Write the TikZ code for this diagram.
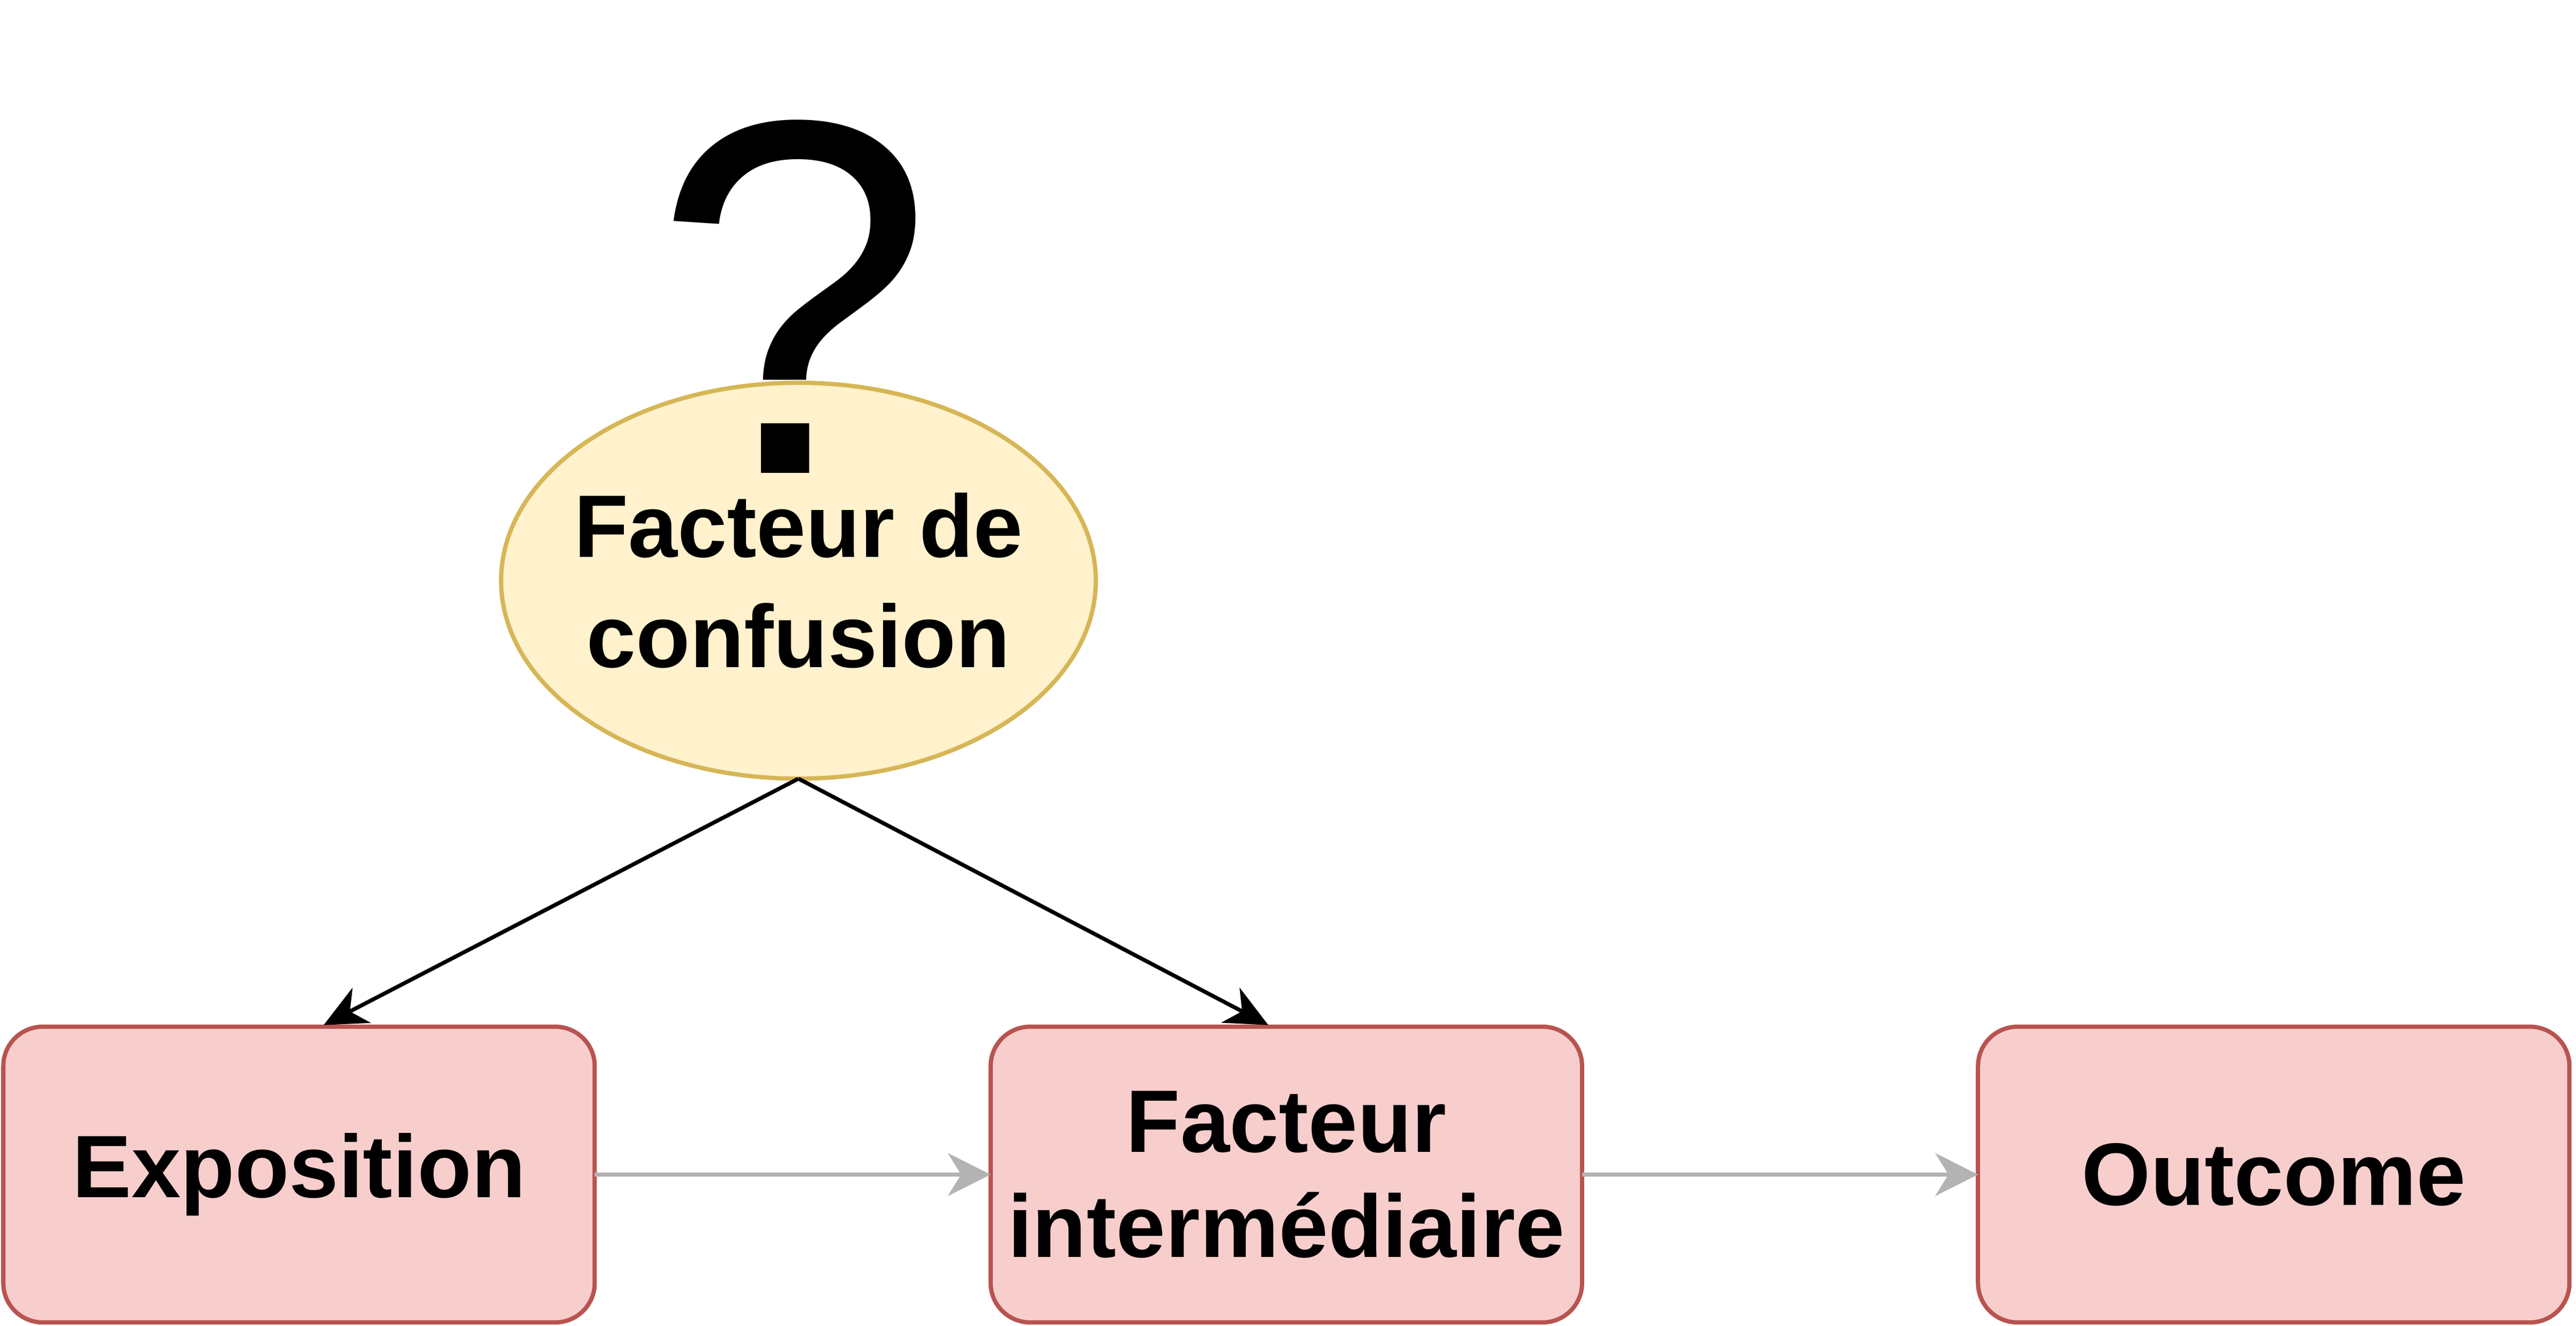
\documentclass[tikz,border=0pt]{standalone}
\usepackage{fontspec}
\setmainfont{Liberation Sans}
\usepackage{xcolor}
\usepackage{tikz}
\usetikzlibrary{arrows.meta}
\usetikzlibrary{shapes.geometric}
\usetikzlibrary{positioning}
\definecolor{red_fill}{HTML}{F8CECC}
\definecolor{red_line}{HTML}{B85450}
\definecolor{yellow_fill}{HTML}{FFF2CC}
\definecolor{yellow_line}{HTML}{D6B656}
\definecolor{grey_line}{HTML}{B3B3B3}
\tikzset{
    textnode/.style = {align=center, inner sep=0pt, outer sep=0pt, text centered, font=\fontsize{54}{64}\selectfont\bfseries},
    red_box/.style = {textnode, rectangle, rounded corners=24pt, draw=red_line, fill=red_fill, line width=2.6pt, minimum width=360pt, minimum height=180pt},
    yellow_node/.style = {textnode, ellipse, font=\fontsize{54}{67}\selectfont\bfseries, inner xsep=-12pt, inner ysep=-20pt, draw=yellow_line, fill=yellow_fill, line width=2.6pt, minimum width=362pt, minimum height=241pt},
    grey_edge/.style = {-{Stealth[length=26pt, width=26pt, inset=8pt]}, draw=grey_line, line width=2.4pt},
    black_edge/.style = {-{Stealth[length=26pt, width=24pt, inset=8pt]}, draw=black, line width=2.4pt}
}

\begin{document}
\begin{tikzpicture}[x=1pt, y=-1pt]
    \useasboundingbox (0,0) rectangle (1568,807);

    \node [red_box] (expo) at (182,715) {Exposition};
    \node [red_box, right=241pt of expo] (inter) {Facteur\\interm\'ediaire};
    \node [red_box, right=241pt of inter] (outcome) {Outcome};

    \node [yellow_node] (conf) at (486,353.5) {Facteur de\\confusion};
    \node [inner sep=0pt, anchor=base, font=\fontsize{308}{308}\selectfont] (qmark) at (483,288) {?};

    \coordinate (expo_in) at (197,624);
    \coordinate (inter_in) at (772,624);

    \draw [black_edge] (conf.south) -- (expo_in);
    \draw [black_edge] (conf.south) -- (inter_in);
    \draw [grey_edge] (expo.east) -- (inter.west);
    \draw [grey_edge] (inter.east) -- (outcome.west);
\end{tikzpicture}
\end{document}
